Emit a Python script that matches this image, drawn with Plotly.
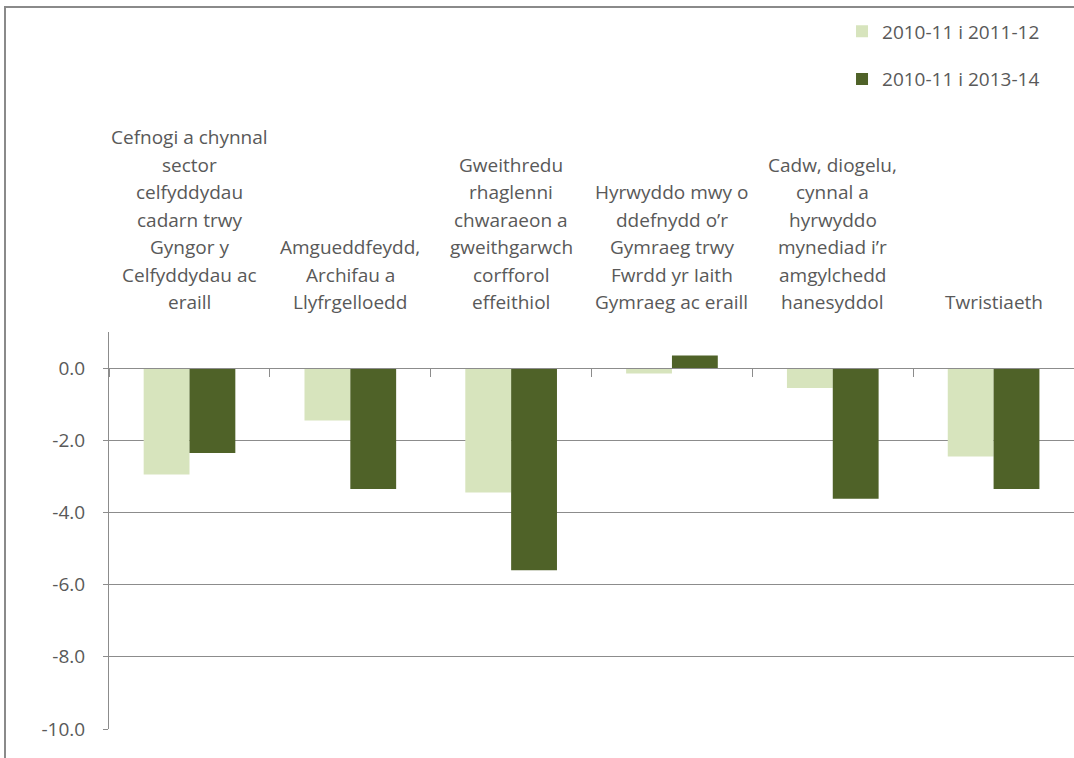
import plotly.graph_objects as go

categories = [
    "Cefnogi a chynnal<br>sector<br>celfyddydau<br>cadarn trwy<br>Gyngor y<br>Celfyddydau ac<br>eraill",
    "Amgueddfeydd,<br>Archifau a<br>Llyfrgelloedd",
    "Gweithredu<br>rhaglenni<br>chwaraeon a<br>gweithgarwch<br>corfforol<br>effeithiol",
    "Hyrwyddo mwy o<br>ddefnydd o’r<br>Gymraeg trwy<br>Fwrdd yr Iaith<br>Gymraeg ac eraill",
    "Cadw, diogelu,<br>cynnal a<br>hyrwyddo<br>mynediad i’r<br>amgylchedd<br>hanesyddol",
    "Twristiaeth",
]
series_names = ["2010-11 i 2011-12", "2010-11 i 2013-14"]
values_2011_12 = [-2.95, -1.45, -3.45, -0.15, -0.55, -2.45]
values_2013_14 = [-2.35, -3.35, -5.6, 0.35, -3.62, -3.35]
y_ticks = [-10, -8, -6, -4, -2, 0]
y_tick_text = ["%.1f" % v for v in y_ticks]

LIGHT = "#d7e4bd"
DARK = "#4f6228"
TEXT = "#595959"
GRID = "#8c8c8c"
FONT = "Open Sans"
FS = 19

W, H = 1074, 758
ML, MT, MB = 109, 332, 29
PH = H - MT - MB

fig = go.Figure()
fig.add_trace(go.Bar(x=categories, y=values_2011_12, name=series_names[0],
                     marker=dict(color=LIGHT, line=dict(width=0)), legendgroup="a"))
fig.add_trace(go.Bar(x=categories, y=values_2013_14, name=series_names[1],
                     marker=dict(color=DARK, line=dict(width=0)), legendgroup="b"))

ymin, ymax = -10, 1.0
zero_pos = (0 - ymin) / (ymax - ymin)

annotations = []
for cat in categories:
    lines = cat.split("<br>")
    for j, line in enumerate(reversed(lines)):
        annotations.append(dict(
            x=cat, xref="x", y=1, yref="paper", yanchor="middle", xanchor="center",
            yshift=30 + 27.5 * j, text=line, showarrow=False,
            font=dict(family=FONT, size=FS, color=TEXT)))

fig.update_layout(
    width=W, height=H,
    margin=dict(l=ML, r=0, t=MT, b=MB, autoexpand=False),
    paper_bgcolor="white", plot_bgcolor="white",
    barmode="group", bargap=0.43, bargroupgap=0,
    font=dict(family=FONT, size=FS, color=TEXT),
    legend=dict(xref="container", yref="container", x=0.784, y=0.9835,
                xanchor="left", yanchor="top", traceorder="grouped",
                tracegroupgap=20, font=dict(family=FONT, size=FS, color=TEXT),
                bgcolor="rgba(0,0,0,0)"),
    xaxis=dict(anchor="free", position=zero_pos, side="bottom", showline=True,
               linecolor=GRID, linewidth=1, ticks="outside", ticklen=8, tickcolor=GRID,
               tickson="boundaries", showticklabels=False, showgrid=False, zeroline=False,
               fixedrange=True),
    yaxis=dict(range=[ymin, ymax], tickvals=y_ticks, ticktext=y_tick_text,
               showline=True, linecolor=GRID, linewidth=1, ticks="outside", ticklen=5,
               tickcolor=GRID, showgrid=True, gridcolor=GRID, gridwidth=1,
               zeroline=False, ticklabelstandoff=14,
               tickfont=dict(family=FONT, size=FS, color=TEXT)),
    annotations=annotations,
    shapes=[dict(type="rect", xref="paper", yref="paper",
                 x0=(5 - ML) / (W - ML), x1=1.05, y0=-0.2, y1=(H - MB - 7) / PH,
                 line=dict(color="#8a8a8a", width=2), fillcolor="rgba(0,0,0,0)",
                 layer="below")],
)

fig.write_html("out.html", config={"displayModeBar": False},
               post_script="document.body.style.margin='0';")
